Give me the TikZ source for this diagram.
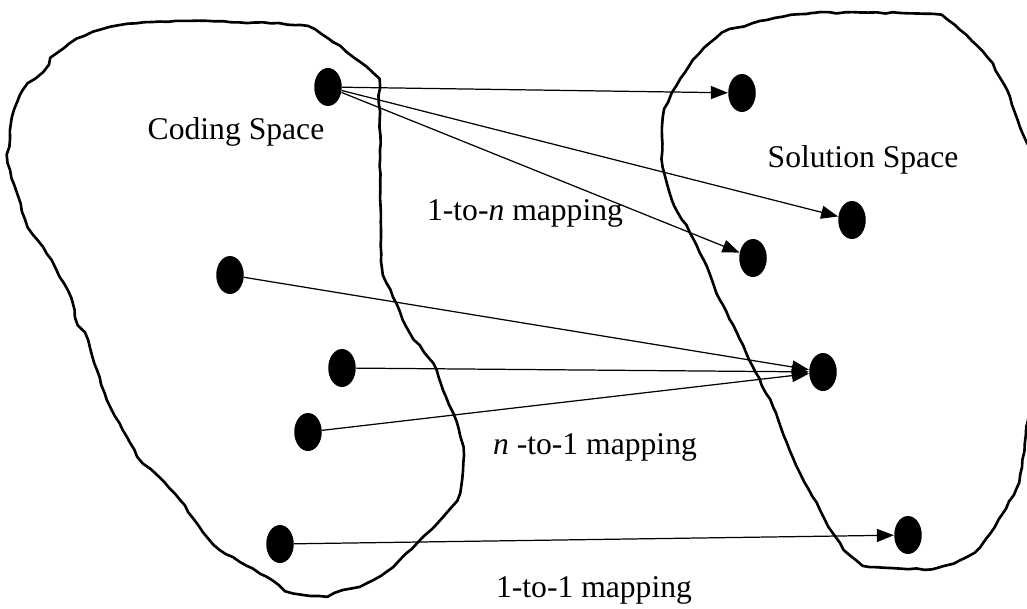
\documentclass[tikz,border=0pt]{standalone}
\usepackage{fontspec}
\setmainfont{Liberation Serif}
\usetikzlibrary{shapes.geometric, arrows.meta, decorations.pathmorphing}

\tikzset{
	elem/.style={ellipse, fill=black, minimum width=5.5mm, minimum height=7.6mm, inner sep=0pt},
	map/.style={-{Triangle[length=3.4mm, width=2.6mm]}, line width=0.7pt},
	blob/.style={line width=1.5pt, line join=round, decorate,
		decoration={random steps, segment length=1.6mm, amplitude=0.15mm}},
	lbl/.style={font=\fontsize{18}{22}\selectfont}
}

\begin{document}
\begin{tikzpicture}[x=0.2mm, y=-0.2mm]

		\pgfmathsetseed{7}
		\useasboundingbox (0,0) rectangle (1027,608);

		\draw[blob] plot[smooth cycle, tension=0.3] coordinates {
			(45,63) (70,43) (93,32) (128,24) (183,21) (300,25) (333,42) (360,62) (378,80)
			(380,150) (381,230) (382,267) (393,297) (410,333) (433,363) (443,390) (453,413)
			(463,447) (460,493) (443,517) (423,537) (393,567) (367,583) (343,590) (327,596)
			(293,593) (267,577) (240,562) (220,550) (203,532) (180,500) (157,475) (143,463)
			(127,437) (107,400) (97,370) (88,340) (78,325) (71,298) (55,267) (43,247) (28,227)
			(17,193) (8,163) (12,117) (23,90) (43,72)};

		\draw[blob] plot[smooth cycle, tension=0.3] coordinates {
			(767,20) (813,13) (933,14) (960,30) (987,57) (1007,90) (1020,127) (1034,160)
			(1040,200) (1040,330) (1032,380) (1022,467) (1017,487) (1003,513) (980,547)
			(960,560) (932,569) (870,567) (850,555) (833,533) (820,510) (800,473) (787,443)
			(773,407) (753,367) (737,333) (720,300) (707,267) (690,233) (672,200) (663,167)
			(663,117) (672,93) (693,60) (722,33)};

		\node[lbl] (coding) at (236,132) {Coding Space};
		\node[lbl] (solution) at (863,160) {Solution Space};

		\node[elem] (c1) at (328,87) {};
		\node[elem] (c2) at (230,275) {};
		\node[elem] (c3) at (342,368) {};
		\node[elem] (c4) at (308,432) {};
		\node[elem] (c5) at (280,544) {};

		\node[elem] (s1) at (742,93) {};
		\node[elem] (s2) at (852,220) {};
		\node[elem] (s3) at (753,258) {};
		\node[elem] (s4) at (823,372) {};
		\node[elem] (s5) at (908,535) {};

		\draw[map] (c1) -- (s1);
		\draw[map] (c1) -- (s2);
		\draw[map] (c1) -- (s3);
		\draw[map] (c2) -- (s4);
		\draw[map] (c3) -- (s4);
		\draw[map] (c4) -- (s4);
		\draw[map] (c5) -- (s5);

		\node[lbl] (onen) at (525,213) {1-to-\textit{n} mapping};
		\node[lbl] (none) at (595,447) {\textit{n} -to-1 mapping};
		\node[lbl] (oneone) at (594,590) {1-to-1 mapping};

	\end{tikzpicture}
\end{document}
